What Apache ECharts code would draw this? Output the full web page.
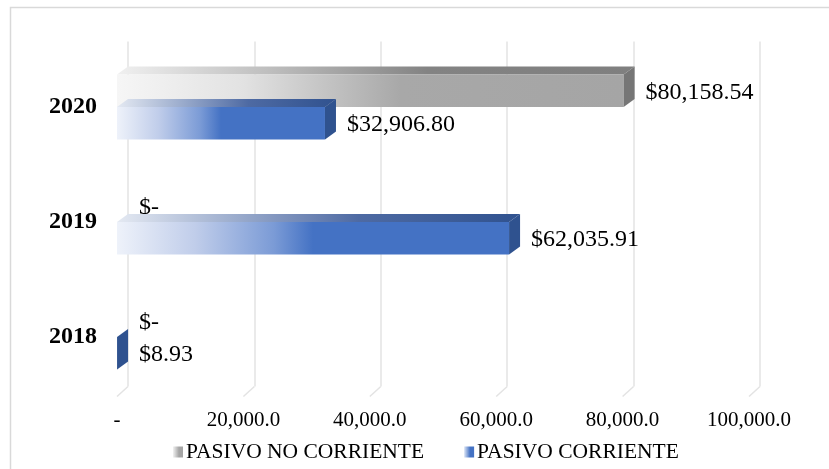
<!DOCTYPE html>
<html>
<head>
<meta charset="utf-8">
<script src="https://cdn.jsdelivr.net/npm/echarts@6/dist/echarts.min.js"></script>
<style>
  html, body { margin: 0; padding: 0; background: #ffffff; }
  #chart { width: 829px; height: 469px; }
</style>
</head>
<body>
<div id="chart"></div>
<script>
// Years on the category axis (bottom to top)
const years = ['2018', '2019', '2020'];
// Liabilities per year
const pasivoNoCorriente = [0, 0, 80158.54];
const pasivoCorriente = [8.93, 62035.91, 32906.80];
// Value axis ticks
const xTicks = [0, 20000, 40000, 60000, 80000, 100000];
const seriesNames = ['PASIVO NO CORRIENTE', 'PASIVO CORRIENTE'];

const FONT = "'Liberation Serif', 'Times New Roman', serif";
// 3D depth offset of the front face relative to the back plane
const DX = -11, DY = 8;

function grad(stops) {
  return new echarts.graphic.LinearGradient(0, 0, 1, 0,
    stops.map(s => ({ offset: s[0], color: s[1] })));
}

const palette = [
  { // grey
    front: () => grad([[0, '#f6f6f6'], [0.25, '#e2e2e2'], [0.56, '#a8a8a8'], [1, '#a5a5a5']]),
    top: () => grad([[0, '#f0f0f0'], [0.3, '#bdbdbd'], [0.6, '#838383'], [1, '#7f7f7f']]),
    side: '#767676',
    legend: () => grad([[0, '#f2f2f2'], [0.6, '#a5a5a5'], [1, '#a5a5a5']])
  },
  { // blue
    front: () => grad([[0, '#eef2fa'], [0.2, '#c0cdea'], [0.4, '#7b9bd6'], [0.5, '#4472c4'], [1, '#4472c4']]),
    top: () => grad([[0, '#e4e9f2'], [0.3, '#9aabcc'], [0.6, '#4e6aa3'], [1, '#30528f']]),
    side: '#2f528f',
    legend: () => grad([[0, '#dde6f6'], [0.6, '#4472c4'], [1, '#4472c4']])
  }
];

function money(v) {
  if (v === 0) return '$-';
  return '$' + v.toLocaleString('en-US', { minimumFractionDigits: 2, maximumFractionDigits: 2 });
}

function makeRender(slot) {
  const pal = palette[slot];
  return function (params, api) {
    const val = api.value(0);
    const cat = api.value(1);
    const c0 = api.coord([0, cat]);
    const c1 = api.coord([val, cat]);
    const band = api.size([0, 1])[1];
    const h = band * 0.283;
    const yT = slot === 0 ? c0[1] - h : c0[1];
    const xb0 = c0[0], xb1 = c1[0];
    const children = [];
    if (val > 0) {
      children.push({
        type: 'polygon',
        shape: { points: [[xb0, yT], [xb1, yT], [xb1 + DX, yT + DY], [xb0 + DX, yT + DY]] },
        style: { fill: pal.top() }
      });
      children.push({
        type: 'rect',
        shape: { x: xb0 + DX, y: yT + DY, width: Math.max(xb1 - xb0, 0.1), height: h },
        style: { fill: pal.front() }
      });
      children.push({
        type: 'polygon',
        shape: { points: [[xb1, yT], [xb1, yT + h], [xb1 + DX, yT + h + DY], [xb1 + DX, yT + DY]] },
        style: { fill: pal.side }
      });
    }
    children.push({
      type: 'text',
      style: {
        x: xb1 + 11,
        y: yT + DY + h / 2 + 1.5,
        text: money(val),
        fill: '#000000',
        font: '24px ' + FONT,
        textAlign: 'left',
        textVerticalAlign: 'middle'
      }
    });
    return { type: 'group', children: children };
  };
}

const chart = echarts.init(document.getElementById('chart'), null, { renderer: 'canvas' });

const option = {
  animation: false,
  backgroundColor: '#ffffff',
  graphic: [{
    type: 'rect',
    shape: { x: 10.5, y: 7.5, width: 830, height: 470 },
    style: { fill: 'none', stroke: '#d9d9d9', lineWidth: 1.5 },
    silent: true
  }],
  legend: {
    left: 173,
    top: 441,
    padding: 0,
    itemWidth: 10,
    itemHeight: 11,
    itemGap: 40,
    icon: 'rect',
    textStyle: { fontFamily: FONT, fontSize: 21.5, color: '#000000', padding: [0, 0, 0, -2] },
    data: seriesNames.map((n, i) => ({ name: n, itemStyle: { color: palette[i].legend() } }))
  },
  grid: [
    // back plane (gridlines, marks)
    { left: 128, top: 41.5, width: 632, height: 345, containLabel: false },
    // front plane (labels)
    { left: 117, top: 49.5, width: 632, height: 345, containLabel: false }
  ],
  xAxis: [
    {
      gridIndex: 0, type: 'value', min: xTicks[0], max: xTicks[xTicks.length - 1],
      interval: xTicks[1] - xTicks[0],
      axisLine: { show: false }, axisTick: { show: false }, axisLabel: { show: false },
      splitLine: { show: true, lineStyle: { color: '#e3e3e3', width: 1.5 } }
    },
    {
      gridIndex: 1, type: 'value', min: xTicks[0], max: xTicks[xTicks.length - 1],
      interval: xTicks[1] - xTicks[0],
      axisLine: { show: false }, axisTick: { show: false }, splitLine: { show: false },
      axisLabel: {
        margin: 15,
        fontFamily: FONT, fontSize: 21, color: '#000000',
        formatter: v => v === 0 ? '-' : v.toLocaleString('en-US', { minimumFractionDigits: 1, maximumFractionDigits: 1 })
      }
    }
  ],
  yAxis: [
    {
      gridIndex: 0, type: 'category', data: years,
      axisLine: { show: false }, axisTick: { show: false }, axisLabel: { show: false },
      splitLine: { show: false }
    },
    {
      gridIndex: 1, type: 'category', data: years,
      axisLine: { show: false }, axisTick: { show: false }, splitLine: { show: false },
      axisLabel: { margin: 20, fontFamily: FONT, fontSize: 24, fontWeight: 'bold', color: '#000000' }
    }
  ],
  series: [
    {
      // floor edges of the gridlines
      type: 'custom',
      name: 'floor',
      xAxisIndex: 0, yAxisIndex: 0,
      silent: true,
      data: xTicks.map(v => [v, 0]),
      renderItem: function (params, api) {
        const c = api.coord([api.value(0), 0]);
        const band = api.size([0, 1])[1];
        const yb = c[1] + band / 2;
        return {
          type: 'line',
          shape: { x1: c[0], y1: yb, x2: c[0] - 11, y2: yb + 10 },
          style: { stroke: '#e3e3e3', lineWidth: 1.5 }
        };
      }
    },
    {
      type: 'custom',
      name: seriesNames[0],
      xAxisIndex: 0, yAxisIndex: 0,
      itemStyle: { color: palette[0].legend() },
      data: years.map((y, i) => [pasivoNoCorriente[i], y]),
      encode: { x: 0, y: 1 },
      renderItem: makeRender(0)
    },
    {
      type: 'custom',
      name: seriesNames[1],
      xAxisIndex: 0, yAxisIndex: 0,
      itemStyle: { color: palette[1].legend() },
      data: years.map((y, i) => [pasivoCorriente[i], y]),
      encode: { x: 0, y: 1 },
      renderItem: makeRender(1)
    }
  ]
};

chart.setOption(option);
</script>
</body>
</html>
